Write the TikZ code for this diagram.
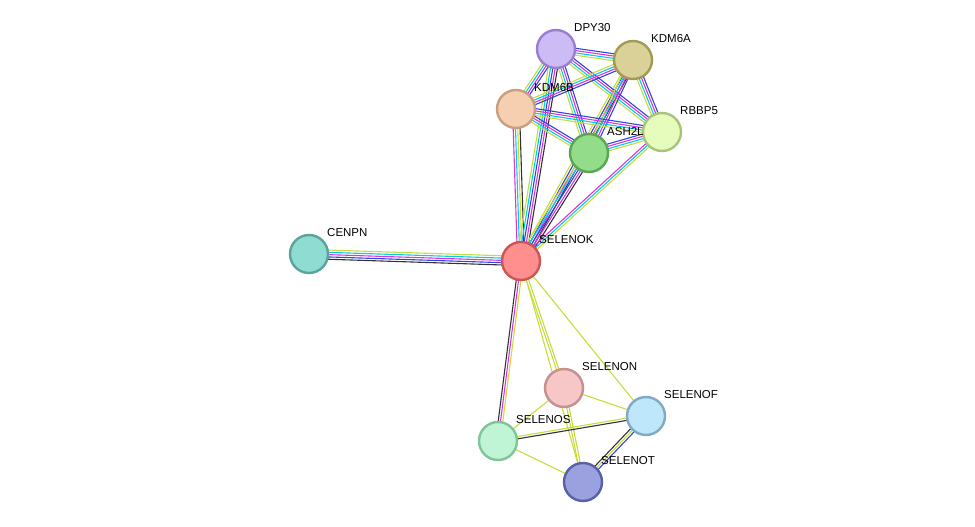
\documentclass[tikz,border=0pt]{standalone}
\usepackage{fontspec}
\setmainfont{Liberation Sans}
\usetikzlibrary{calc}
\definecolor{ctext}{HTML}{C8DC3C}
\definecolor{cdb}{HTML}{00CCEE}
\definecolor{cexp}{HTML}{DD33DD}
\definecolor{cco}{HTML}{333333}
\definecolor{chom}{HTML}{3344DD}
\definecolor{fDPY}{HTML}{CCBBF5}\definecolor{dDPY}{HTML}{9A7FD0}
\definecolor{fKDMA}{HTML}{D9D197}\definecolor{dKDMA}{HTML}{A39A55}
\definecolor{fKDMB}{HTML}{F5CFB0}\definecolor{dKDMB}{HTML}{C8A07F}
\definecolor{fRBB}{HTML}{E6FCBC}\definecolor{dRBB}{HTML}{A7C47A}
\definecolor{fASH}{HTML}{92DC8A}\definecolor{dASH}{HTML}{5AA653}
\definecolor{fSK}{HTML}{FF8F8F}\definecolor{dSK}{HTML}{CC5555}
\definecolor{fCEN}{HTML}{8FDCD2}\definecolor{dCEN}{HTML}{5CA39A}
\definecolor{fSN}{HTML}{F7C6C6}\definecolor{dSN}{HTML}{C78F8F}
\definecolor{fSF}{HTML}{BFE7FB}\definecolor{dSF}{HTML}{80AAC4}
\definecolor{fSS}{HTML}{BFF5D5}\definecolor{dSS}{HTML}{80C49A}
\definecolor{fST}{HTML}{9AA1DE}\definecolor{dST}{HTML}{5860A6}
\tikzset{
  protein/.style={circle, minimum size=38pt, inner sep=0pt, line width=2.4pt, fill=f#1, draw=d#1},
  plabel/.style={font=\fontsize{11.5}{13}\selectfont, anchor=west, inner sep=0pt},
  link/.style={line width=1.1pt},
}
% parallel lines between two named points, one per colour
\newcommand\strlink[3]{%
  \foreach \cc [count=\ii] in {#3} {\xdef\nlinks{\ii}}%
  \foreach \cc [count=\ii] in {#3} {%
    \pgfmathsetmacro\off{(\ii-(\nlinks+1)/2)*2.3}%
    \draw[link,\cc] ($(#1)!\off pt!90:(#2)$) -- ($(#2)!\off pt!-90:(#1)$);%
  }%
}
\begin{document}
\begin{tikzpicture}[x=1pt,y=-1pt]
\useasboundingbox (0,0) rectangle (975,527);
%coordinates of the proteins
\coordinate (pDPY) at (556,49);
\coordinate (pKDMA) at (633,60);
\coordinate (pKDMB) at (516,109);
\coordinate (pRBB) at (662,132);
\coordinate (pASH) at (589,153);
\coordinate (pSK) at (521,261);
\coordinate (pCEN) at (309,254);
\coordinate (pSN) at (564,388);
\coordinate (pSF) at (646,416);
\coordinate (pSS) at (498,441);
\coordinate (pST) at (583,482);
%the links
\strlink{pSK}{pCEN}{ctext,cdb,cexp,chom,cco}
\strlink{pSK}{pKDMB}{cco,ctext,cdb,cexp}
\strlink{pSK}{pDPY}{cco,cexp,chom,cdb,ctext}
\strlink{pSK}{pKDMA}{cco,cexp,chom,ctext}
\strlink{pSK}{pASH}{cco,cexp,chom,cdb,ctext}
\strlink{pSK}{pRBB}{ctext,cdb,cexp}
\strlink{pSK}{pSS}{cco,cexp,ctext}
\strlink{pSK}{pSN}{ctext,ctext}
\strlink{pSK}{pST}{ctext}
\strlink{pSK}{pSF}{ctext}
\strlink{pSN}{pSF}{ctext}
\strlink{pSN}{pSS}{ctext}
\strlink{pSN}{pST}{ctext,ctext}
\strlink{pSS}{pSF}{cco,ctext}
\strlink{pSS}{pST}{ctext}
\strlink{pSF}{pST}{cco,ctext,chom}
\foreach \a/\b in {pDPY/pKDMA,pDPY/pKDMB,pDPY/pRBB,pDPY/pASH,pKDMA/pKDMB,pKDMA/pRBB,pKDMA/pASH,pKDMB/pRBB,pKDMB/pASH,pASH/pRBB}{
  \strlink{\a}{\b}{ctext,cdb,cexp,chom}
}
%the proteins and their labels
\foreach \p/\t in {DPY/DPY30,KDMA/KDM6A,KDMB/KDM6B,RBB/RBBP5,ASH/ASH2L,SK/SELENOK,CEN/CENPN,SN/SELENON,SF/SELENOF,SS/SELENOS,ST/SELENOT}{
  \node[protein=\p] (\p) at (p\p) {};
  \node[plabel] (l\p) at ($(\p)+(18,-21)$) {\t};
}
\end{tikzpicture}
\end{document}
